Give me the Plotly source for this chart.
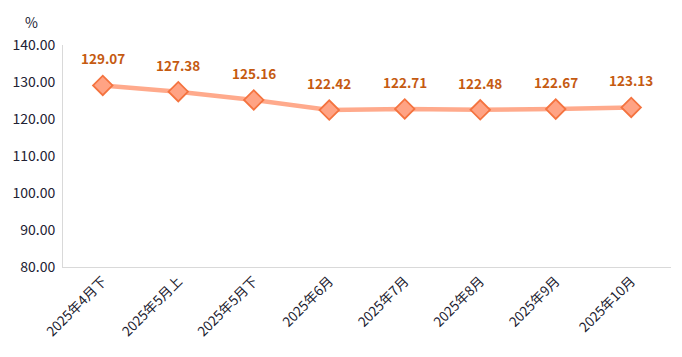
import plotly.graph_objects as go

categories = ["2025年4月下", "2025年5月上", "2025年5月下", "2025年6月", "2025年7月", "2025年8月", "2025年9月", "2025年10月"]
values = [129.07, 127.38, 125.16, 122.42, 122.71, 122.48, 122.67, 123.13]
y_ticks = [80, 90, 100, 110, 120, 130, 140]
y_tick_labels = [f"{v:.2f}" for v in y_ticks]

font_family = "Noto Sans CJK SC, Noto Sans, sans-serif"

# page body has an 8px default margin; compensate so plot area lands at x 63-671, y 45-267
ML, MR, MT, MB = 55, 3, 37, 82
W, H = 666, 341

fig = go.Figure()
fig.add_trace(go.Scatter(
    x=categories, y=values,
    mode="lines+markers",
    line=dict(color="#FFAA8C", width=4.5),
    marker=dict(symbol="diamond", size=15, color="#FFA384",
                line=dict(color="#F4733F", width=1.8)),
    cliponaxis=False,
    hoverinfo="skip",
))

annotations = [dict(
    x=c, y=v, xref="x", yref="y", text=f"{v:.2f}", showarrow=False,
    yshift=27, font=dict(color="#C55A11", size=13.5, family=font_family, weight="bold"),
) for c, v in zip(categories, values)]

plot_w = W - ML - MR
plot_h = H - MT - MB
annotations.append(dict(
    text="%", x=(31 - 63) / plot_w, y=(267 - 22) / plot_h,
    xref="paper", yref="paper", xanchor="center", yanchor="middle",
    showarrow=False, font=dict(size=14, color="#222233"),
))

fig.update_layout(
    width=W, height=H,
    margin=dict(l=ML, r=MR, t=MT, b=MB),
    plot_bgcolor="white", paper_bgcolor="white",
    showlegend=False,
    font=dict(family=font_family, color="#222222"),
    xaxis=dict(
        type="category", automargin=False,
        showgrid=False, showline=True, linecolor="#D9D9D9", linewidth=1,
        tickangle=-45, tickfont=dict(size=13.5, color="#1a1a2e"),
        ticks="", zeroline=False,
    ),
    yaxis=dict(
        range=[80, 140], automargin=False,
        tickvals=y_ticks, ticktext=y_tick_labels,
        showgrid=False, showline=True, linecolor="#D9D9D9", linewidth=1,
        tickfont=dict(size=14, color="#222233"),
        ticks="", zeroline=False, ticklabelstandoff=4,
    ),
    annotations=annotations,
)

fig.write_html("out.html")
